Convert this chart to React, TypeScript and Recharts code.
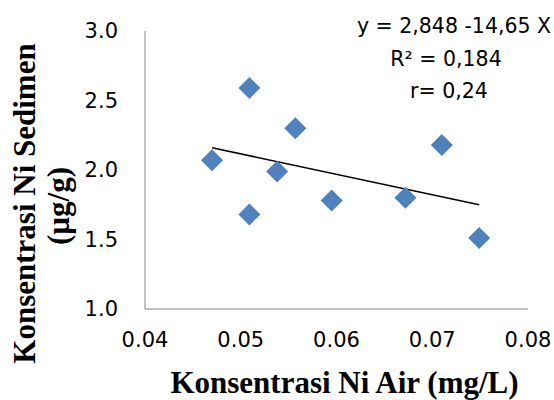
import React from "react";
import { ScatterChart, Scatter, XAxis, YAxis } from "recharts";

const niAir = [0.047, 0.0509, 0.0509, 0.0538, 0.0557, 0.0595, 0.0672, 0.071, 0.0749];
const niSedimen = [2.07, 2.59, 1.68, 1.99, 2.3, 1.78, 1.8, 2.18, 1.51];
const trendX = [0.047, 0.0749];
const trendY = [2.16, 1.75];
const xTicks = [0.04, 0.05, 0.06, 0.07, 0.08];
const yTicks = [1.0, 1.5, 2.0, 2.5, 3.0];
const equationLines = ["y = 2,848 -14,65 X", "R² = 0,184", "r= 0,24"];
const xTitle = "Konsentrasi Ni Air (mg/L)";
const yTitleLines = ["Konsentrasi Ni Sedimen", "(µg/g)"];

const points = niAir.map((x, i) => ({ x, y: niSedimen[i] }));
const trend = trendX.map((x, i) => ({ x, y: trendY[i] }));

const Diamond = (props: any) => {
  const { cx, cy } = props;
  if (cx == null || cy == null) return <g />;
  const r = 11;
  return (
    <polygon
      points={`${cx},${cy - r} ${cx + r},${cy} ${cx},${cy + r} ${cx - r},${cy}`}
      fill="#4F81BD"
    />
  );
};

const Empty = () => <g />;

const tickStyle = { fontFamily: "DejaVu Sans", fontSize: 21, fill: "#000" };
const titleStyle = { fontFamily: "Liberation Serif", fontWeight: "bold" as const, fontSize: 31, fill: "#000" };
const eqStyle = { fontFamily: "DejaVu Sans", fontSize: 20.5, fill: "#000" };

const eqX = [454, 446, 449];
const eqY = [33, 66, 98];

const Titles = () => (
  <g>
    <text x={344.5} y={393} textAnchor="middle" style={titleStyle}>
      {xTitle}
    </text>
    <text x={35} y={203.5} textAnchor="middle" transform="rotate(-90, 35, 203.5)" style={titleStyle}>
      {yTitleLines[0]}
    </text>
    <text x={69} y={206} textAnchor="middle" transform="rotate(-90, 69, 206)" style={titleStyle}>
      {yTitleLines[1]}
    </text>
    {equationLines.map((t, i) => (
      <text key={i} x={eqX[i]} y={eqY[i]} textAnchor="middle" style={eqStyle}>
        {t}
      </text>
    ))}
  </g>
);

export default function App() {
  return (
    <div style={{ position: "absolute", left: 0, top: 0, width: 554, height: 400, background: "#fff" }}>
      <ScatterChart width={554} height={400} margin={{ top: 31, right: 26, left: 0, bottom: 0 }}>
        <XAxis
          type="number"
          dataKey="x"
          domain={[0.04, 0.08]}
          ticks={xTicks}
          tickFormatter={(v: number) => v.toFixed(2)}
          height={91}
          tickLine={false}
          tickSize={0}
          tickMargin={23}
          axisLine={{ stroke: "#868686", strokeWidth: 1 }}
          tick={tickStyle}
          allowDataOverflow
        />
        <YAxis
          type="number"
          dataKey="y"
          domain={[1, 3]}
          ticks={yTicks}
          tickFormatter={(v: number) => v.toFixed(1)}
          width={145}
          tickLine={false}
          tickSize={0}
          tickMargin={27}
          axisLine={{ stroke: "#868686", strokeWidth: 1 }}
          tick={tickStyle}
          allowDataOverflow
          label={{ content: () => <Titles /> }}
        />
        <Scatter
          data={trend}
          line={{ stroke: "#000", strokeWidth: 1.5 }}
          lineType="joint"
          shape={Empty}
          isAnimationActive={false}
        />
        <Scatter data={points} shape={Diamond} isAnimationActive={false} />
      </ScatterChart>
    </div>
  );
}
